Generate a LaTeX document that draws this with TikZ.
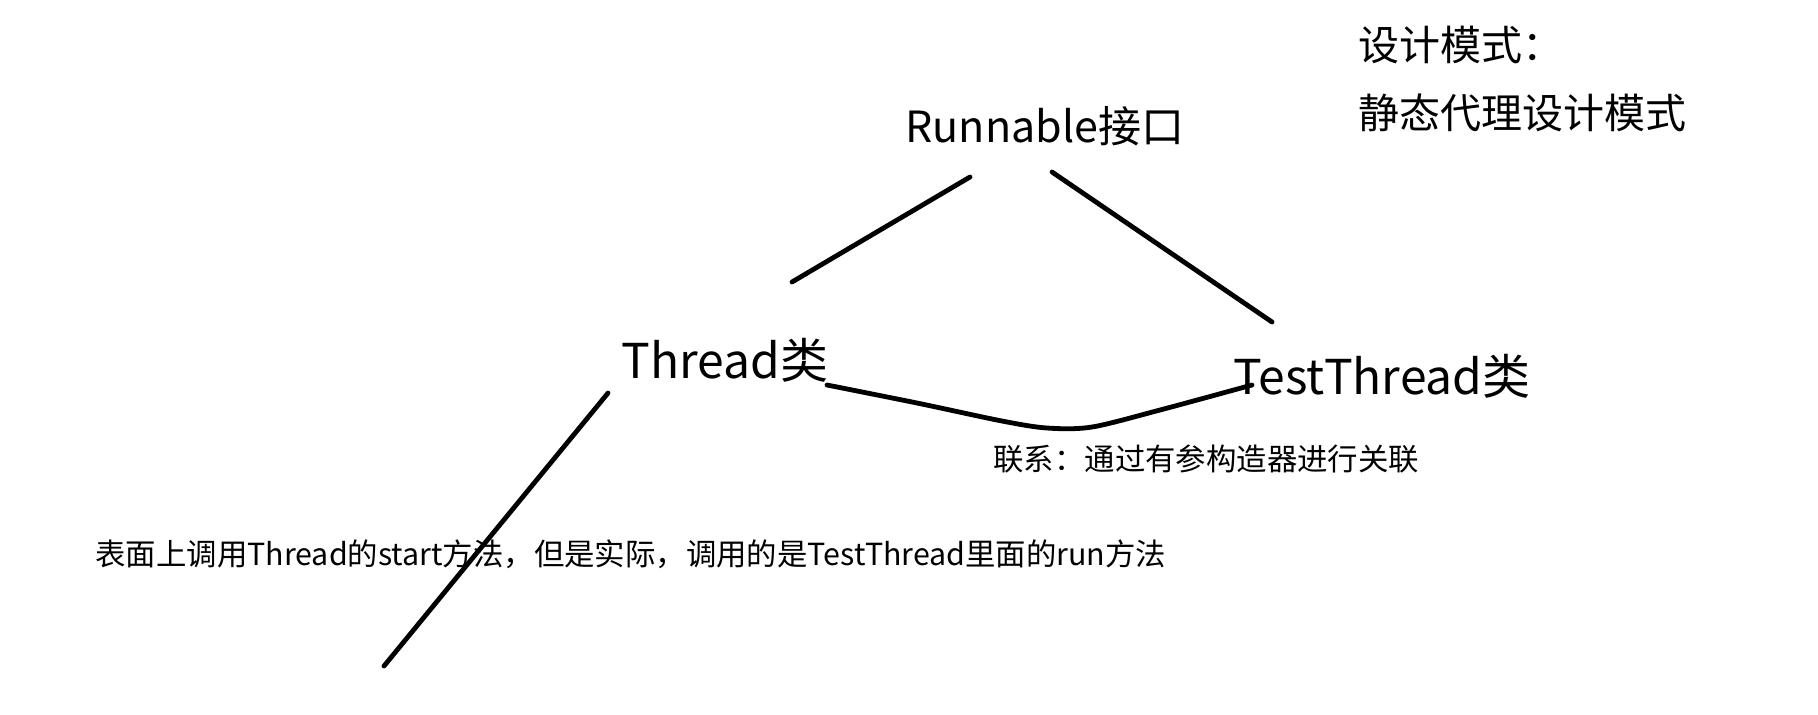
\documentclass[tikz,border=0pt]{standalone}
\usepackage{fontspec}
\setmainfont{Noto Sans CJK SC}

\begin{document}
\begin{tikzpicture}[x=0.5pt,y=-0.5pt,
		cls/.style={anchor=base west,inner sep=0pt,font=\fontsize{24}{28}\selectfont},
		iface/.style={anchor=base west,inner sep=0pt,font=\fontsize{21.5}{26}\selectfont},
		head/.style={anchor=base west,inner sep=0pt,font=\fontsize{20.5}{25}\selectfont},
		note/.style={anchor=base west,inner sep=0pt,font=\fontsize{15.2}{18}\selectfont},
		stroke/.style={line width=2.4pt,line cap=round}]
			\useasboundingbox (0,0) rectangle (1818,714);
			\node[iface] (run) at (905,142) {Runnable接口};
			\node[cls] (th) at (621,378) {Thread类};
			\node[cls] (tt) at (1233,394) {TestThread类};
			\node[note] (rel) at (993,470) {联系：通过有参构造器进行关联};
			\node[note] (call) at (95,565) {表面上调用Thread的start方法，但是实际，调用的是TestThread里面的run方法};
			\node[head] (mode) at (1358,60) {设计模式：};
			\node[head] (proxy) at (1358,128) {静态代理设计模式};
	
			\coordinate (runL) at ([shift={(65,35)}]run.base west);
			\coordinate (runR) at ([shift={(147,30)}]run.base west);
			\coordinate (thTop) at ([shift={(171,-96)}]th.base west);
			\coordinate (thLeft) at ([shift={(-13,15)}]th.base west);
			\coordinate (thEnd) at ([shift={(206,7)}]th.base west);
			\coordinate (ttTop) at ([shift={(39,-72)}]tt.base west);
			\coordinate (ttEnd) at ([shift={(19,-9)}]tt.base west);
			\coordinate (tail) at ([shift={(-237,288)}]th.base west);
	
			\draw[stroke] (runL)--(thTop);
			\draw[stroke] (runR)--(ttTop);
			\draw[stroke] (thLeft)--(tail);
			\draw[stroke] plot[smooth,tension=0.5] coordinates {(thEnd)([shift={(90,18)}]thEnd)([shift={(175,36)}]thEnd)([shift={(220,43)}]thEnd)([shift={(265,42)}]thEnd)([shift={(-92,25)}]ttEnd)(ttEnd)};
		\end{tikzpicture}
\end{document}
